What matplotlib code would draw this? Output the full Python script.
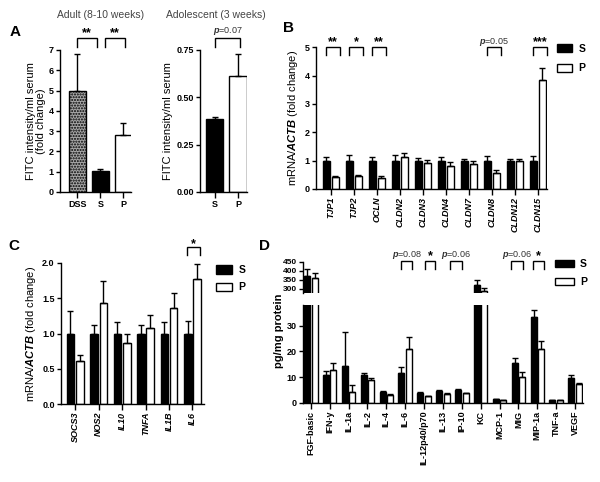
import numpy as np
import matplotlib
matplotlib.use("Agg")
import matplotlib.pyplot as plt
from matplotlib.patches import Patch

plt.rcParams["font.family"] = ["Liberation Sans", "DejaVu Sans"]
plt.rcParams["font.weight"] = "bold"
plt.rcParams["font.size"] = 6.5
plt.rcParams["mathtext.fontset"] = "custom"
plt.rcParams["mathtext.rm"] = "Liberation Sans"
plt.rcParams["mathtext.it"] = "Liberation Sans:italic"
plt.rcParams["mathtext.bf"] = "Liberation Sans:italic:bold"
plt.rcParams["axes.linewidth"] = 1.0

# ---- data ----
adult_groups = ["DSS", "S", "P"]
adult_mean = [5.0, 1.02, 2.8]
adult_err = [1.8, 0.13, 0.58]

adol_groups = ["S", "P"]
adol_mean = [0.385, 0.615]
adol_err = [0.01, 0.115]

tj_genes = ["TJP1", "TJP2", "OCLN", "CLDN2", "CLDN3", "CLDN4", "CLDN7", "CLDN8", "CLDN12", "CLDN15"]
tj_s = [1.0, 1.0, 1.0, 1.0, 1.0, 1.0, 1.0, 1.0, 1.0, 1.0]
tj_s_err = [0.13, 0.2, 0.13, 0.2, 0.08, 0.12, 0.07, 0.16, 0.07, 0.15]
tj_p = [0.42, 0.47, 0.40, 1.13, 0.90, 0.80, 0.88, 0.58, 0.98, 3.85]
tj_p_err = [0.03, 0.03, 0.05, 0.13, 0.13, 0.16, 0.10, 0.10, 0.08, 0.42]

inf_genes = ["SOCS3", "NOS2", "IL10", "TNFA", "IL1B", "IL6"]
inf_s = [1.0, 1.0, 1.0, 1.0, 1.0, 1.0]
inf_s_err = [0.32, 0.12, 0.16, 0.12, 0.17, 0.18]
inf_p = [0.61, 1.43, 0.87, 1.08, 1.36, 1.78]
inf_p_err = [0.09, 0.31, 0.13, 0.18, 0.21, 0.20]

cyto = ["FGF-basic", "IFN-y", "IL-1a", "IL-2", "IL-4", "IL-6", "IL-12p40/p70", "IL-13",
        "IP-10", "KC", "MCP-1", "MIG", "MIP-1a", "TNF-a", "VEGF"]
cyto_s = [371, 11.0, 14.4, 10.9, 4.4, 11.5, 4.0, 4.7, 5.2, 322, 1.5, 15.6, 33.3, 1.2, 9.6]
cyto_s_err = [38, 1.3, 13.1, 0.6, 0.2, 2.5, 0.2, 0.3, 0.3, 27, 0.1, 1.9, 2.9, 0.1, 1.3]
cyto_p = [360, 12.7, 4.1, 8.8, 3.2, 21.0, 2.7, 3.5, 3.7, 289, 1.2, 10.2, 21.0, 1.1, 7.5]
cyto_p_err = [29, 3.0, 2.9, 0.9, 0.2, 4.4, 0.2, 0.2, 0.2, 16, 0.1, 1.7, 2.9, 0.1, 0.2]

W, H = 600, 482
fig = plt.figure(figsize=(W / 100, H / 100), dpi=100)
LABEL_FS = 8
STAR_FS = 9


def px_axes(l, t, r, b):
    return fig.add_axes([l / W, 1 - b / H, (r - l) / W, (b - t) / H])


def style(ax):
    for s in ["top", "right"]:
        ax.spines[s].set_visible(False)
    ax.tick_params(axis="y", direction="out", length=3, width=1, pad=1.5)
    ax.tick_params(axis="x", direction="out", length=4, width=1, pad=1.5)


def errs(ax, x, m, e):
    ax.errorbar(x, m, yerr=[np.zeros(len(e)), e], fmt="none", ecolor="black",
                elinewidth=1, capsize=2, capthick=1, zorder=3)


def bracket(ax, x0, x1, ytop, ybot, text, ytext, italic_p=False):
    ax.plot([x0, x0, x1, x1], [ybot, ytop, ytop, ybot], color="black", lw=1,
            clip_on=False, solid_joinstyle="miter")
    if italic_p:
        ax.text((x0 + x1) / 2, ytext, r"$\mathit{p}$=" + text, ha="center", va="baseline",
                fontsize=6.5, fontweight="normal", color="#333333")
    else:
        ax.text((x0 + x1) / 2, ytext, text, ha="center", va="baseline", fontsize=STAR_FS)


def grouped(ax, s, se, p, pe, off, w):
    x = np.arange(len(s))
    ax.bar(x - off, s, w, color="black", edgecolor="black", lw=1, zorder=2)
    ax.bar(x + off, p, w, color="white", edgecolor="black", lw=1, zorder=2)
    errs(ax, x - off, s, se)
    errs(ax, x + off, p, pe)
    return x


def sp_legend(ax, x, y, hl, hh, ls):
    ax.legend(handles=[Patch(facecolor="black", edgecolor="black", lw=1, label="S"),
                       Patch(facecolor="white", edgecolor="black", lw=1, label="P")],
              loc="upper left", bbox_to_anchor=(x / W, 1 - y / H), bbox_transform=fig.transFigure,
              frameon=False, fontsize=7.5, handlelength=hl, handleheight=hh, labelspacing=ls,
              handletextpad=0.6, borderpad=0, borderaxespad=0)


# ---- A left ----
a1 = px_axes(60, 50, 131, 192)
style(a1)
xa = np.arange(len(adult_groups))
a1.bar(xa, adult_mean, 0.74, color=["#a8a8a8", "black", "white"], edgecolor="black",
       lw=1, hatch=["......", None, None], zorder=2)
errs(a1, xa, adult_mean, adult_err)
a1.set_xlim(-0.76, 2.33)
a1.set_ylim(0, 7)
a1.set_yticks(range(0, 8))
a1.set_xticks(xa)
a1.set_xticklabels(adult_groups)
a1.set_ylabel("FITC intensity/ml serum\n(fold change)", fontsize=LABEL_FS, labelpad=2,
              linespacing=1.0)
bracket(a1, 0, 0.85, 7.6, 7.15, "**", 7.68)
bracket(a1, 1.2, 2.05, 7.6, 7.15, "**", 7.68)
fig.text(101 / W, 1 - 15 / H, "Adult (8-10 weeks)", ha="center", va="center",
         fontsize=7.5, fontweight="normal", color="#444444")

# ---- A right ----
a2 = px_axes(200, 50, 247, 192)
style(a2)
xb = np.arange(len(adol_groups))
a2.bar(xb, adol_mean, 0.74, color=["black", "white"], edgecolor="black", lw=1, zorder=2)
errs(a2, xb, adol_mean, adol_err)
a2.set_xlim(-0.62, 1.38)
a2.set_ylim(0, 0.75)
a2.set_yticks([0, 0.25, 0.5, 0.75])
a2.set_yticklabels(["0.00", "0.25", "0.50", "0.75"])
a2.set_xticks(xb)
a2.set_xticklabels(adol_groups)
a2.set_ylabel("FITC intensity/ml serum", fontsize=LABEL_FS, labelpad=2)
bracket(a2, 0.03, 1.08, 0.815, 0.767, "0.07", 0.84, italic_p=True)
fig.text(216 / W, 1 - 15 / H, "Adolescent (3 weeks)", ha="center", va="center",
         fontsize=7.5, fontweight="normal", color="#444444")

# ---- B ----
b = px_axes(316, 47.3, 547, 189)
style(b)
xg = grouped(b, tj_s, tj_s_err, tj_p, tj_p_err, 0.19, 0.31)
b.set_xlim(-0.64, 9.4)
b.set_ylim(0, 5)
b.set_yticks(range(0, 6))
b.set_xticks(xg)
b.set_xticklabels(tj_genes, rotation=90, fontstyle="italic")
b.set_ylabel(r"mRNA/$\mathbf{ACTB}$ (fold change)", fontsize=LABEL_FS, labelpad=3)
for i, t in [(0, "**"), (1, "*"), (2, "**"), (9, "***")]:
    bracket(b, i - 0.2, i + 0.4, 5.0, 4.73, t, 5.06)
bracket(b, 7 - 0.2, 7 + 0.4, 5.0, 4.73, "0.05", 5.1, italic_p=True)
sp_legend(b, 557, 44, 1.45, 0.8, 0.9)

# ---- C ----
c = px_axes(61, 263, 204, 404)
style(c)
xc = grouped(c, inf_s, inf_s_err, inf_p, inf_p_err, 0.2, 0.32)
c.set_xlim(-0.6, 5.49)
c.set_ylim(0, 2)
c.set_yticks([0, 0.5, 1.0, 1.5, 2.0])
c.set_xticks(xc)
c.set_xticklabels(inf_genes, rotation=90, fontstyle="italic")
c.set_ylabel(r"mRNA/$\mathbf{ACTB}$ (fold change)", fontsize=LABEL_FS, labelpad=3)
bracket(c, 5 - 0.25, 5 + 0.3, 2.22, 2.11, "*", 2.23)
sp_legend(c, 216, 265, 1.55, 0.85, 0.7)

# ---- D (broken axis) ----
d_bot = px_axes(302.7, 305, 583, 403)
d_top = px_axes(302.7, 261.5, 583, 293)
for ax in (d_bot, d_top):
    style(ax)
    grouped(ax, cyto_s, cyto_s_err, cyto_p, cyto_p_err, 0.2, 0.32)
    ax.set_xlim(-0.43, 14.42)
d_bot.set_ylim(0, 38)
d_bot.set_yticks([0, 10, 20, 30])
d_bot.set_xticks(np.arange(len(cyto)))
d_bot.set_xticklabels(cyto, rotation=90)
d_top.set_ylim(278, 450)
d_top.set_yticks([300, 350, 400, 450])
d_top.tick_params(axis="y", labelsize=6, pad=1)
d_top.spines["bottom"].set_visible(False)
d_top.set_xticks([])
fig.text(279 / W, 1 - 331 / H, "pg/mg protein", rotation=90, ha="center", va="center",
         fontsize=LABEL_FS)
for i, t, dx0, dx1 in [(6, "*", 0.05, 0.6), (12, "*", -0.25, 0.35)]:
    bracket(d_top, i + dx0, i + dx1, 454, 409, t, 462)
for i, t, dx0, dx1 in [(5, "0.08", -0.2, 0.35), (8, "0.06", -0.6, 0.0), (11, "0.06", -0.4, 0.25)]:
    bracket(d_top, i + dx0, i + dx1, 454, 409, t, 477, italic_p=True)
sp_legend(d_top, 555, 259, 1.8, 0.65, 0.75)

# panel letters
for lbl, x, y in [("A", 15, 32), ("B", 288, 28), ("C", 14, 246), ("D", 265, 246)]:
    fig.text(x / W, 1 - y / H, lbl, ha="center", va="center", fontsize=11, fontweight="bold")

fig.savefig("out.png", dpi=100)
